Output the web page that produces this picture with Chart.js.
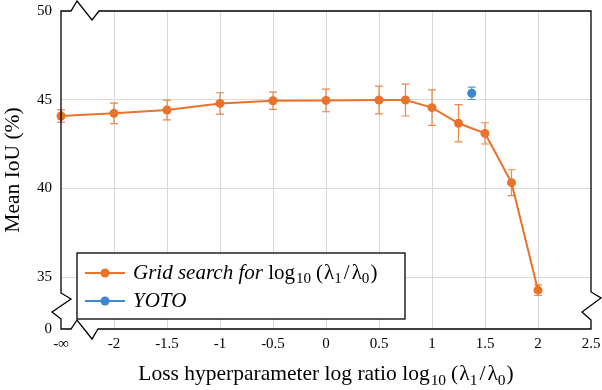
<!DOCTYPE html>
<html>
<head>
<meta charset="utf-8">
<script src="https://cdn.jsdelivr.net/npm/chart.js@4"></script>
<style>
  body { margin: 0; background: #fff; }
  #wrap { width: 602px; height: 390px; }
</style>
</head>
<body>
<div id="wrap"><canvas id="myChart" width="602" height="390"></canvas></div>
<script>
// data
const xTicks = [-2.5, -2, -1.5, -1, -0.5, 0, 0.5, 1, 1.5, 2, 2.5];
const gridX = [-2.5, -2, -1.5, -1, -0.5, 0, 0.5, 0.75, 1, 1.25, 1.5, 1.75, 2];
const gridMean = [44.08, 44.23, 44.42, 44.79, 44.94, 44.96, 44.98, 44.98, 44.55, 43.67, 43.1, 40.32, 34.26];
const gridErr = [0.34, 0.58, 0.56, 0.6, 0.49, 0.64, 0.78, 0.9, 1.0, 1.05, 0.6, 0.73, 0.3];
const yotoX = [1.375];
const yotoMean = [45.36];
const yotoErr = [0.35];
const Y_ZERO = 32.07; // the broken axis: "0" sits here
const yTicks = [Y_ZERO, 35, 40, 45, 50];

const ORANGE = "rgb(233,115,42)";
const BLUE = "rgb(62,134,208)";
const SERIF = "'Liberation Serif', 'Times New Roman', serif";
const TITLE_SIZE = 21.5;
const LEGEND_SIZE = 21;

// draws text pieces with italic / subscript parts
function drawRich(ctx, parts, x, y, size) {
  let cx = x;
  parts.forEach((p) => {
    const fs = p.sub ? size * 0.72 : size;
    ctx.font = (p.italic ? "italic " : "") + fs + "px " + SERIF;
    ctx.fillText(p.t, cx, p.sub ? y + size * 0.3 : y);
    cx += ctx.measureText(p.t).width + (p.gap || 0);
  });
  return cx - x;
}
function richWidth(ctx, parts, size) {
  let w = 0;
  parts.forEach((p) => {
    const fs = p.sub ? size * 0.72 : size;
    ctx.font = (p.italic ? "italic " : "") + fs + "px " + SERIF;
    w += ctx.measureText(p.t).width + (p.gap || 0);
  });
  return w;
}

const ratioParts = [
  { t: "log", gap: 1 }, { t: "10", sub: true, gap: 5 }, { t: "(", gap: 1 }, { t: "λ" }, { t: "1", sub: true, gap: 2 },
  { t: "/", gap: 2 }, { t: "λ" }, { t: "0", sub: true, gap: 1 }, { t: ")" },
];

const errorBars = {
  id: "errorBars",
  beforeDatasetsDraw(chart) {
    const ctx = chart.ctx;
    const xs = chart.scales.x, ys = chart.scales.y;
    const sets = [
      [gridX, gridMean, gridErr, "rgba(233,115,42,0.85)"],
      [yotoX, yotoMean, yotoErr, "rgba(62,134,208,0.85)"],
    ];
    ctx.save();
    ctx.lineWidth = 1.2;
    sets.forEach(([xv, mv, ev, col]) => {
      ctx.strokeStyle = col;
      xv.forEach((v, i) => {
        const px = xs.getPixelForValue(v);
        const top = ys.getPixelForValue(mv[i] + ev[i]);
        const bot = ys.getPixelForValue(mv[i] - ev[i]);
        ctx.beginPath();
        ctx.moveTo(px, top); ctx.lineTo(px, bot);
        ctx.moveTo(px - 4, top); ctx.lineTo(px + 4, top);
        ctx.moveTo(px - 4, bot); ctx.lineTo(px + 4, bot);
        ctx.stroke();
      });
    });
    ctx.restore();
  },
};

const frameAndLegend = {
  id: "frameAndLegend",
  afterDatasetsDraw(chart) {
    const ctx = chart.ctx;
    const { left: L, right: R, top: T, bottom: B } = chart.chartArea;
    ctx.save();

    // legend box
    const lx = L + 16, ly = 253, lw = 328, lh = 66;
    ctx.fillStyle = "#fff";
    ctx.fillRect(lx, ly, lw, lh);
    ctx.strokeStyle = "#000";
    ctx.lineWidth = 1.3;
    ctx.strokeRect(lx, ly, lw, lh);
    const rows = [
      [ORANGE, [{ t: "Grid search for ", italic: true }].concat(ratioParts), 273],
      [BLUE, [{ t: "YOTO", italic: true }], 301],
    ];
    rows.forEach(([col, parts, ry]) => {
      ctx.strokeStyle = col;
      ctx.lineWidth = 2;
      ctx.beginPath();
      ctx.moveTo(lx + 8, ry); ctx.lineTo(lx + 48, ry);
      ctx.stroke();
      ctx.fillStyle = col;
      ctx.beginPath();
      ctx.arc(lx + 28, ry, 4.5, 0, Math.PI * 2);
      ctx.fill();
      ctx.fillStyle = "#000";
      ctx.textBaseline = "middle";
      ctx.textAlign = "left";
      drawRich(ctx, parts, lx + 56, ry, LEGEND_SIZE);
    });

    // frame with axis breaks
    ctx.strokeStyle = "#000";
    ctx.lineWidth = 1.3;
    ctx.beginPath();
    ctx.moveTo(L, T);
    ctx.lineTo(L + 10, T); ctx.lineTo(L + 16, T - 10); ctx.lineTo(L + 31, T + 9); ctx.lineTo(L + 38, T);
    ctx.lineTo(R, T);
    ctx.lineTo(R, B - 37); ctx.lineTo(R + 10, B - 31); ctx.lineTo(R - 9, B - 17); ctx.lineTo(R, B - 9);
    ctx.lineTo(R, B);
    ctx.lineTo(L + 37, B); ctx.lineTo(L + 31, B + 10); ctx.lineTo(L + 16, B - 9); ctx.lineTo(L + 10, B);
    ctx.lineTo(L, B);
    ctx.lineTo(L, B - 10); ctx.lineTo(L - 9, B - 17); ctx.lineTo(L + 10, B - 30); ctx.lineTo(L, B - 36);
    ctx.closePath();
    ctx.stroke();

    // x axis title with subscripts
    const xParts = [{ t: "Loss hyperparameter log ratio " }].concat(ratioParts);
    const w = richWidth(ctx, xParts, TITLE_SIZE);
    ctx.fillStyle = "#000";
    ctx.textBaseline = "middle";
    ctx.textAlign = "left";
    drawRich(ctx, xParts, (L + R) / 2 - w / 2, 374, TITLE_SIZE);
    ctx.restore();
  },
};

const ctx = document.getElementById("myChart").getContext("2d");
new Chart(ctx, {
  type: "scatter",
  data: {
    datasets: [
      {
        label: "Grid search",
        data: gridX.map((x, i) => ({ x: x, y: gridMean[i] })),
        showLine: true,
        borderColor: ORANGE,
        backgroundColor: ORANGE,
        borderWidth: 2,
        pointRadius: 4.5,
        pointBorderWidth: 0,
        clip: false,
      },
      {
        label: "YOTO",
        data: yotoX.map((x, i) => ({ x: x, y: yotoMean[i] })),
        borderColor: BLUE,
        backgroundColor: BLUE,
        pointRadius: 4.5,
        pointBorderWidth: 0,
        clip: false,
      },
    ],
  },
  options: {
    responsive: false,
    animation: false,
    layout: { padding: { left: 0, right: 11, top: 11, bottom: 0 } },
    plugins: { legend: { display: false }, tooltip: { enabled: false } },
    scales: {
      x: {
        type: "linear",
        min: -2.5,
        max: 2.5,
        afterBuildTicks: (s) => { s.ticks = xTicks.map((v) => ({ value: v })); },
        afterFit: (s) => { s.height = 61; s.paddingLeft = 0; s.paddingRight = 0; },
        border: { display: false },
        grid: {
          drawTicks: false,
          color: (c) => (c.tick && Math.abs(c.tick.value) === 2.5 ? "rgba(0,0,0,0)" : "#d9d9d9"),
          lineWidth: 1,
        },
        ticks: {
          padding: 6,
          color: "#000",
          font: { family: SERIF, size: 15 },
          callback: (v) => (v === -2.5 ? "-∞" : String(v)),
        },
      },
      y: {
        type: "linear",
        min: Y_ZERO,
        max: 50,
        afterBuildTicks: (s) => { s.ticks = yTicks.map((v) => ({ value: v })); },
        afterFit: (s) => { s.width = 61; s.paddingTop = 0; s.paddingBottom = 0; },
        border: { display: false },
        grid: {
          drawTicks: false,
          color: (c) => (c.tick && (c.tick.value === Y_ZERO || c.tick.value === 50) ? "rgba(0,0,0,0)" : "#d9d9d9"),
          lineWidth: 1,
        },
        ticks: {
          padding: 9,
          color: "#000",
          font: { family: SERIF, size: 15 },
          callback: (v) => (v === Y_ZERO ? "0" : String(v)),
        },
        title: {
          display: true,
          text: "Mean IoU (%)",
          color: "#000",
          font: { family: SERIF, size: TITLE_SIZE },
          padding: { top: 0, bottom: 0 },
        },
      },
    },
  },
  plugins: [errorBars, frameAndLegend],
});
</script>
</body>
</html>
